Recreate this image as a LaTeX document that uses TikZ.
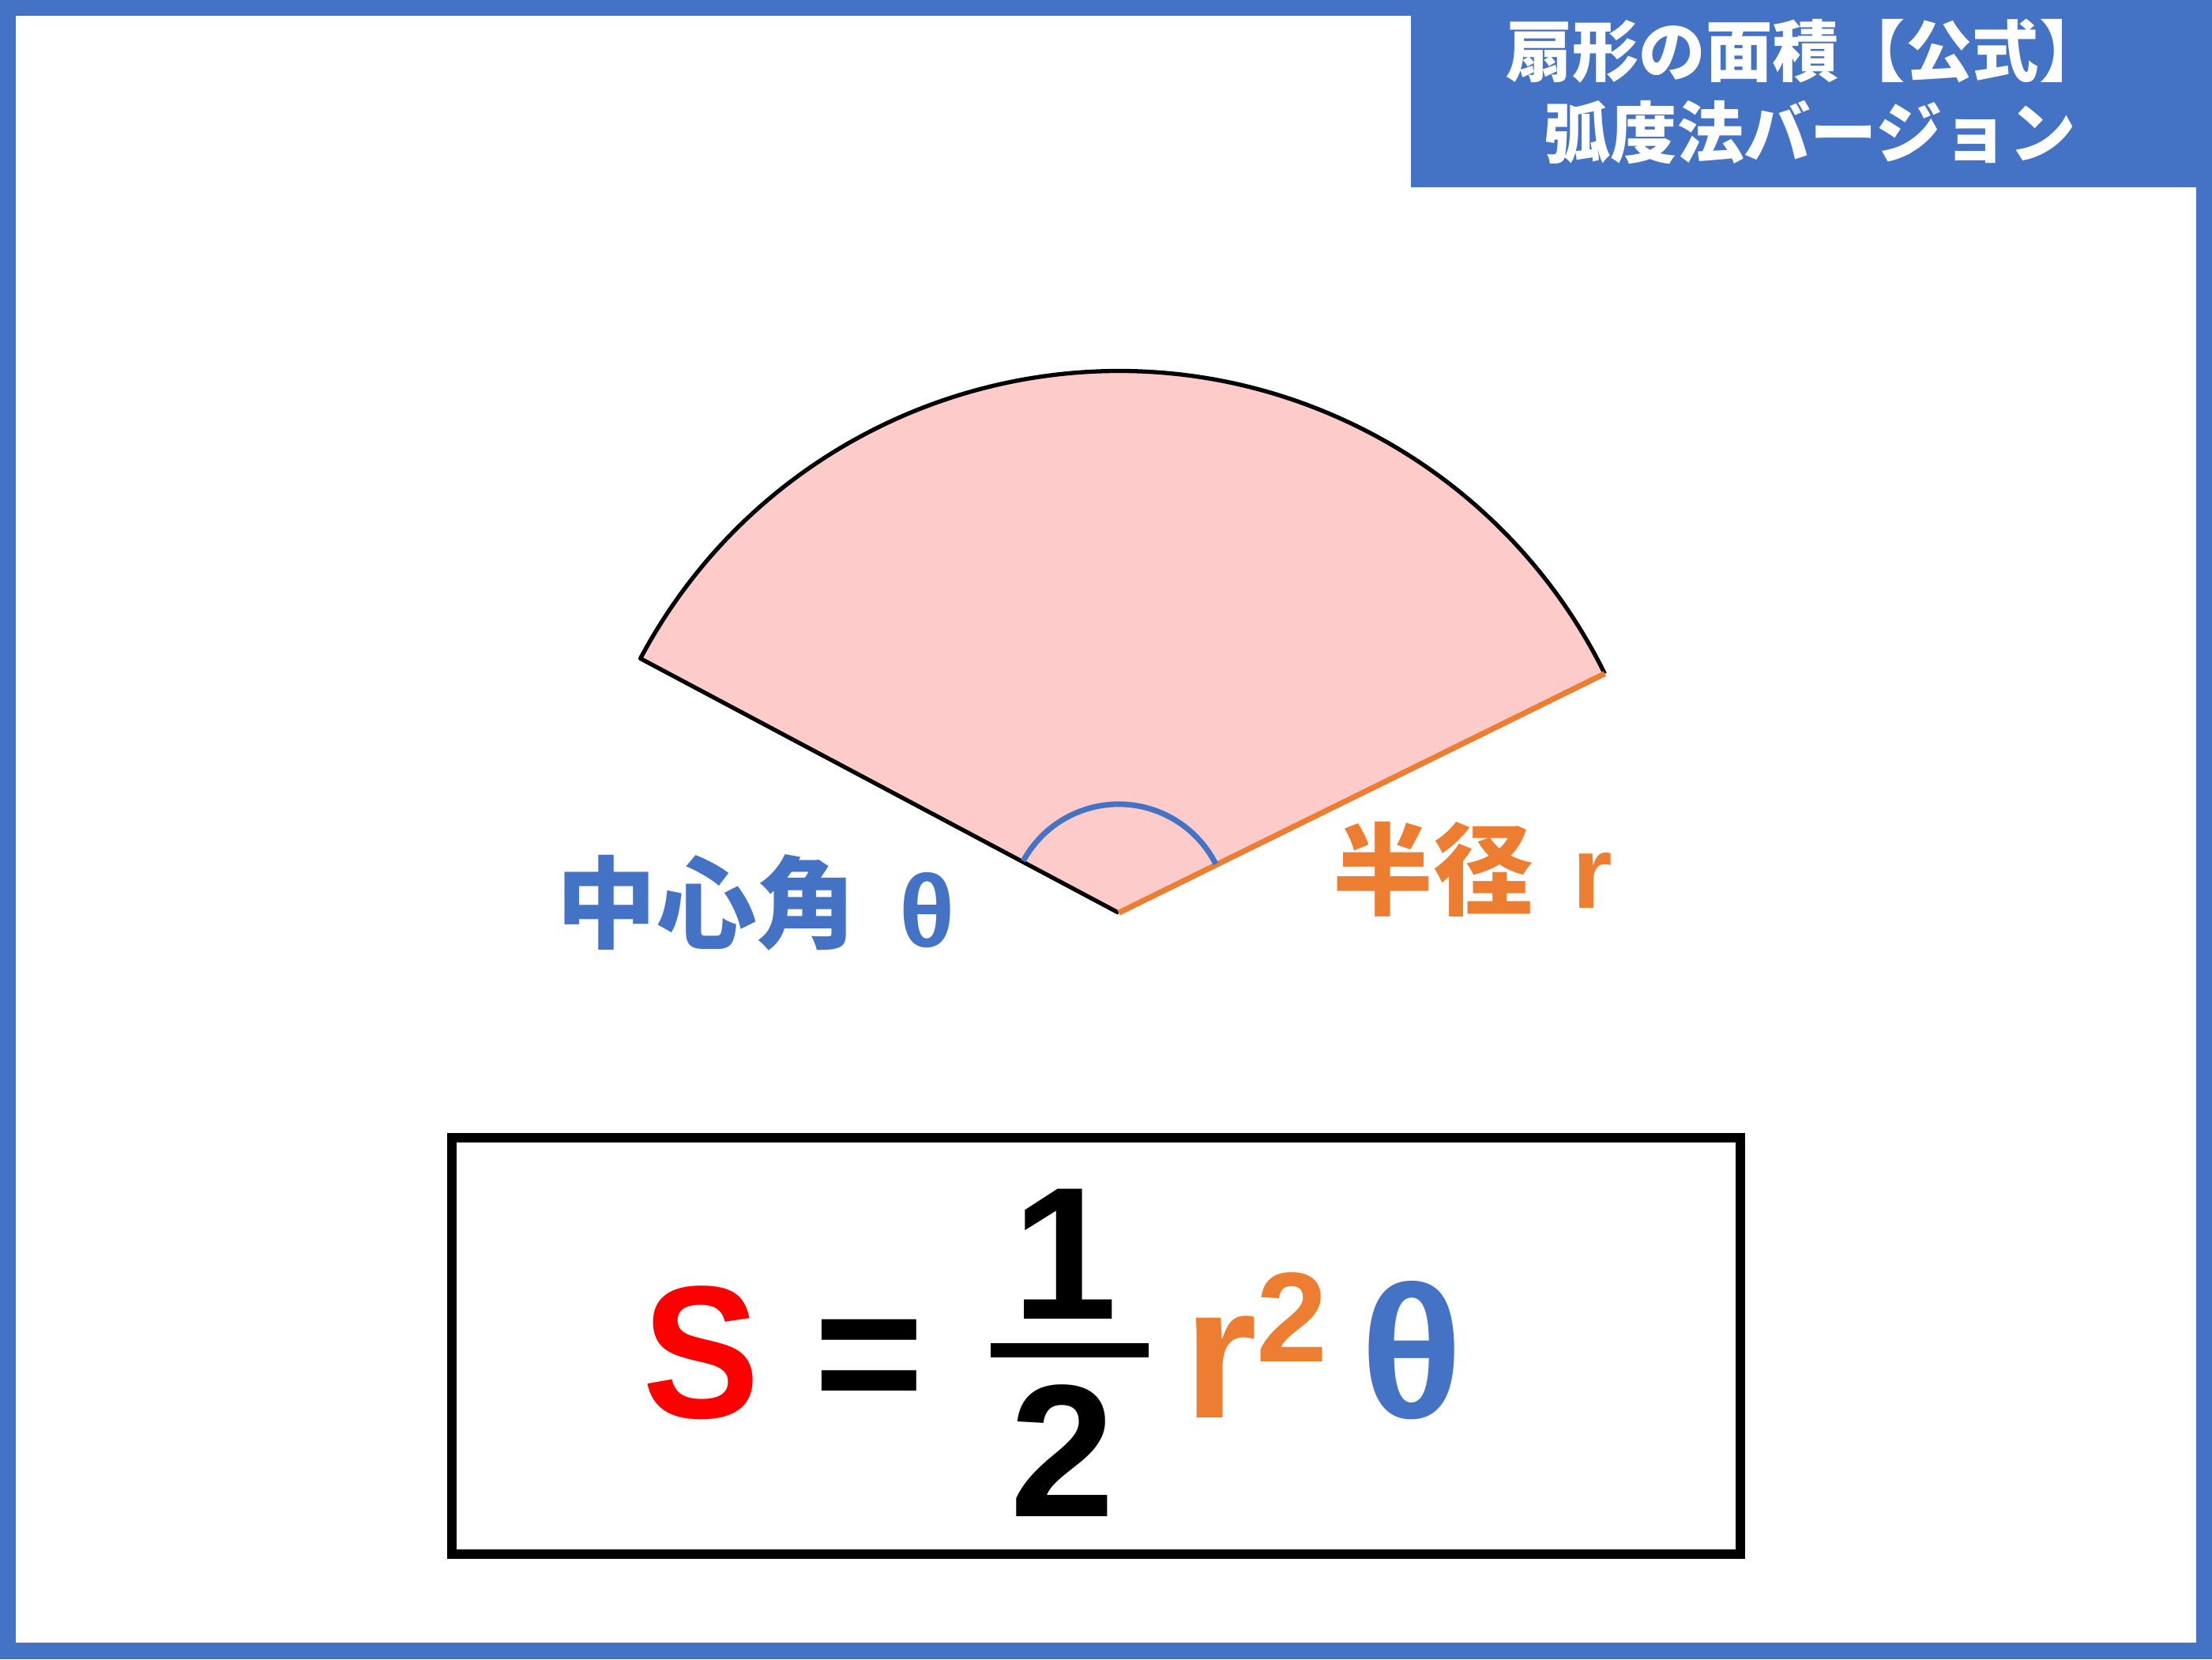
\documentclass[tikz,border=0pt]{standalone}
\usepackage{fontspec}
\newfontfamily\jp{Noto Sans CJK JP}
\newfontfamily\ar{Liberation Sans}
\usetikzlibrary{calc}
\definecolor{frameblue}{HTML}{4472C4}
\definecolor{pinkfill}{HTML}{FCCBCA}
\definecolor{orng}{HTML}{ED7D31}
\definecolor{redS}{HTML}{FF0000}
\tikzset{
  titletext/.style={text=white, font=\jp\bfseries\fontsize{24}{28}\selectfont, inner sep=0pt},
  jplabel/.style={font=\jp\bfseries\fontsize{36}{40}\selectfont, inner sep=0pt},
  arlabel/.style={font=\ar\bfseries\fontsize{37}{40}\selectfont, inner sep=0pt},
  formula/.style={font=\ar\bfseries\fontsize{68}{80}\selectfont, inner sep=0pt},
  supfont/.style={font=\ar\bfseries\fontsize{46}{50}\selectfont, inner sep=0pt}
}
\begin{document}
\begin{tikzpicture}[x=0.0178571cm,y=0.0178571cm]
\useasboundingbox (0,0) rectangle (1568,1176);
% frame
\fill[frameblue] (0,0) rectangle (1568,1176);
\fill[white] (11,12) rectangle (1557,1165);
% title box
\fill[frameblue] (1000,1043) rectangle (1568,1176);
\node[titletext] (t1) at (1280,1140) {扇形の面積【公式】};
\node[titletext] (t2) at (1283,1082) {弧度法バージョン};
% sector
\coordinate (C) at (793,529);
\coordinate (L) at ($(C)+(152:384)$);
\coordinate (R) at ($(C)+(26.2:384)$);
\fill[pinkfill] (C) -- (L) arc[start angle=152, end angle=26.2, radius=384] -- cycle;
\draw[black, line width=1.5pt, line join=round] (C) -- (L) arc[start angle=152, end angle=26.2, radius=384];
\draw[orng, line width=2pt] (C) -- (R);
\draw[frameblue, line width=2pt] ($(C)+(151.5:77)$) arc[start angle=151.5, end angle=26.7, radius=77];
% labels
\node[jplabel, text=frameblue] (lab1) at (501,536) {中心角};
\node[arlabel, text=frameblue] (lab1t) at (657,531) {θ};
\node[jplabel, text=orng] (lab2) at (1016,560) {半径};
\node[arlabel, text=orng] (lab2r) at (1129,552) {r};
% formula box
\draw[black, line width=3.5pt] (320.5,369.5) rectangle (1233.5,74.5);
\node[formula, text=redS, anchor=base, xscale=0.93] (S) at (497,171) {S};
\node[formula, anchor=base] (eq) at (616,171) {=};
\coordinate (fbl) at (702,219);
\coordinate (fbr) at (814,219);
\draw[black, line width=5pt] (fbl) -- (fbr);
\node[formula, anchor=base] (one) at (755,241) {1};
\node[formula, anchor=base] (two) at (753,101) {2};
\node[formula, text=orng, anchor=base west] (r) at (839,171) {r};
\node[supfont, text=orng, anchor=base west] (sq) at (890,211) {2};
\node[formula, text=frameblue, anchor=base] (th) at (1001,171) {θ};
\end{tikzpicture}
\end{document}
